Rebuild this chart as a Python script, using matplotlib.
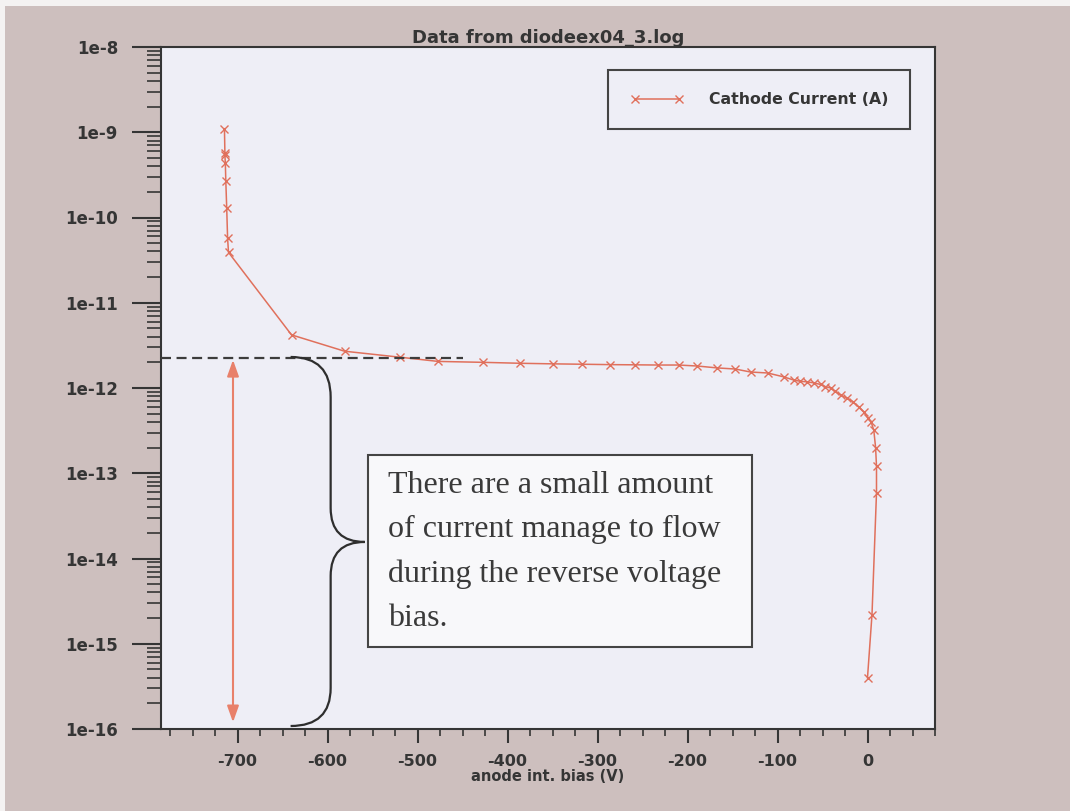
import numpy as np
import matplotlib
matplotlib.use("Agg")
import matplotlib.pyplot as plt
from matplotlib.path import Path
from matplotlib.patches import PathPatch, Rectangle
from matplotlib.ticker import FixedLocator, MultipleLocator, LogLocator, FuncFormatter, NullFormatter

# cathode current vs anode internal bias, in sweep order
bias_v = [0, 5, 10, 10, 9, 7, 4, 0, -4, -10, -16, -23, -30, -36, -41, -47, -52,
          -60, -67, -75, -82, -93, -111, -130, -147, -167, -189, -210, -233,
          -258, -286, -317, -350, -386, -427, -477, -520, -581, -640,
          -710, -711, -712, -713, -713.5, -714, -714, -714.5]
cathode_a = [4.0e-16, 2.2e-15, 5.9e-14, 1.2e-13, 2.0e-13, 3.2e-13, 4.0e-13,
             4.5e-13, 5.2e-13, 6.0e-13, 6.9e-13, 7.6e-13, 8.3e-13, 9.1e-13,
             1.0e-12, 1.04e-12, 1.1e-12, 1.15e-12, 1.18e-12, 1.2e-12, 1.24e-12,
             1.35e-12, 1.5e-12, 1.54e-12, 1.67e-12, 1.72e-12, 1.81e-12,
             1.86e-12, 1.86e-12, 1.87e-12, 1.88e-12, 1.9e-12, 1.92e-12,
             1.95e-12, 2.0e-12, 2.05e-12, 2.3e-12, 2.7e-12, 4.2e-12,
             3.9e-11, 5.7e-11, 1.3e-10, 2.7e-10, 4.3e-10, 5.4e-10, 5.7e-10, 1.1e-9]

x_major = list(range(-700, 1, 100))
y_decades = list(range(-16, -7))
x_lim = (-785, 75)
y_lim = (1e-16, 1e-8)

# leakage level and the span it is marked over
leak_level = 2.25e-12
leak_end_v = -450
arrow_v = -705
arrow_bottom = 1.2e-16

# brace: x in volts, y as log10(current)
brace_x = [-641, -596.5, -596.5, -596.5, -596.5, -558.6, -596.5, -596.5, -596.5, -596.5, -641]
brace_logy = [-11.636, -11.636, -12.106, -13.408, -13.806, -13.806, -13.806, -14.205, -15.519, -15.965, -15.965]

note = ("There are a small amount\n"
        "of current manage to flow\n"
        "during the reverse voltage\n"
        "bias.")

line_color = "#e0705c"
ink = "#353535"
plot_bg = "#eeeef6"

plt.rcParams["font.family"] = "DejaVu Sans"
plt.rcParams["font.weight"] = "bold"
plt.rcParams["axes.unicode_minus"] = False

fig = plt.figure(figsize=(10.7, 8.11), dpi=100, facecolor="#cdbfbe")
# pale margins along the top and left edge of the page
fig.patches.append(Rectangle((0, 1 - 6 / 811), 1, 6 / 811, transform=fig.transFigure,
                             facecolor="#f4f2f2", edgecolor="none"))
fig.patches.append(Rectangle((0, 0), 5 / 1070, 1, transform=fig.transFigure,
                             facecolor="#f4f2f2", edgecolor="none"))

ax = fig.add_axes([161 / 1070, 1 - 729 / 811, 774 / 1070, 682 / 811])
ax.set_facecolor(plot_bg)

ax.plot(bias_v, cathode_a, color=line_color, lw=1.1, marker="x", ms=6, mew=1.0,
        label="Cathode Current (A)", zorder=3)

ax.set_yscale("log")
ax.set_xlim(*x_lim)
ax.set_ylim(*y_lim)

ax.xaxis.set_major_locator(FixedLocator(x_major))
ax.xaxis.set_minor_locator(MultipleLocator(25))
ax.yaxis.set_major_locator(FixedLocator([10.0 ** d for d in y_decades]))
ax.yaxis.set_minor_locator(LogLocator(base=10, subs=np.arange(2, 10), numticks=20))
ax.yaxis.set_minor_formatter(NullFormatter())
ax.yaxis.set_major_formatter(FuncFormatter(lambda v, _: f"1e{int(round(np.log10(v)))}"))

for s in ax.spines.values():
    s.set_linewidth(1.5)
    s.set_color(ink)

ax.tick_params(axis="y", which="major", direction="out", length=21, width=1.5,
               pad=10, labelsize=12, colors=ink)
ax.tick_params(axis="y", which="minor", direction="out", length=10, width=1.2, colors=ink)
ax.tick_params(axis="x", which="major", direction="out", length=10, width=1.5,
               pad=8, labelsize=11.5, colors=ink)
ax.tick_params(axis="x", which="minor", direction="out", length=5, width=1.2, colors=ink)

ax.set_title("Data from diodeex04_3.log", fontsize=13, fontweight="bold",
             color=ink, pad=3)
ax.set_xlabel("anode int. bias (V)", fontsize=10.5, fontweight="bold",
              color=ink, labelpad=0)

leg = ax.legend(loc="upper right", bbox_to_anchor=(0.968, 0.966), fontsize=11.3,
                frameon=True, fancybox=False, edgecolor="#444444", facecolor=plot_bg,
                framealpha=1, handlelength=3.4, handletextpad=1.6, borderpad=1.4,
                borderaxespad=0, numpoints=2)
leg.get_frame().set_linewidth(1.5)
for t in leg.get_texts():
    t.set_color(ink)

# leakage level, dashed
ax.hlines(leak_level, x_lim[0], leak_end_v, colors="#3c3c3c", lw=1.6,
          linestyles=(0, (4.5, 2.5)), zorder=4)

# double-headed arrow spanning the leakage range
ax.annotate("", xy=(arrow_v, arrow_bottom), xytext=(arrow_v, leak_level * 0.95),
            arrowprops=dict(arrowstyle="<|-|>,head_length=0.7,head_width=0.25",
                            color="#e8806a", lw=1.5, shrinkA=0, shrinkB=0,
                            mutation_scale=14), zorder=4)

# curly brace
codes = [Path.MOVETO, Path.CURVE3, Path.CURVE3, Path.LINETO, Path.CURVE3, Path.CURVE3,
         Path.CURVE3, Path.CURVE3, Path.LINETO, Path.CURVE3, Path.CURVE3]
verts = [(x, 10 ** y) for x, y in zip(brace_x, brace_logy)]
ax.add_patch(PathPatch(Path(verts, codes), facecolor="none", edgecolor="#2e2e2e",
                       lw=1.6, zorder=4))

# note box
ax.add_patch(Rectangle((0.2674, 0.1202), 0.4962, 0.2816, transform=ax.transAxes,
                       facecolor="#f8f8fa", edgecolor="#444444", lw=1.5, zorder=5))
ax.text(0.2933, 0.260, note, transform=ax.transAxes, ha="left", va="center",
        fontsize=23, family="Liberation Serif", fontweight="normal",
        color="#3a3a3a", linespacing=1.68, zorder=6)

fig.savefig("out.png", dpi=100, facecolor=fig.get_facecolor())
